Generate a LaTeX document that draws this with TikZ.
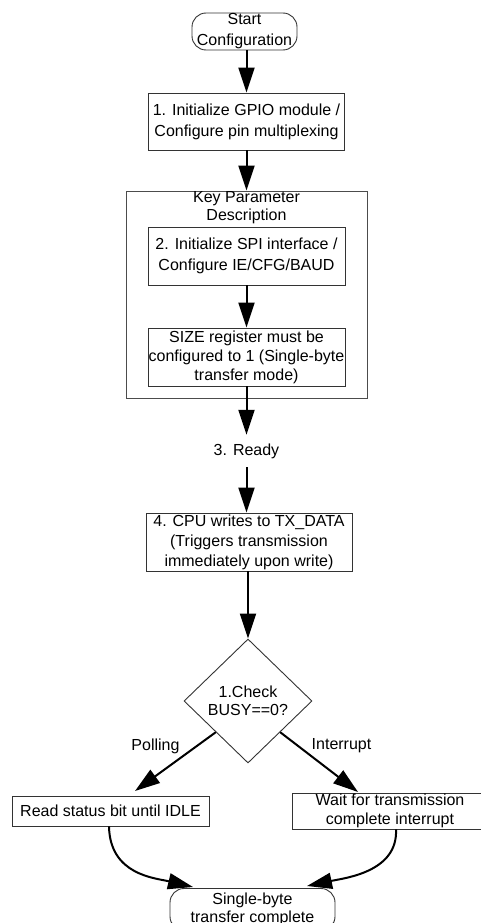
\documentclass[tikz,border=0pt]{standalone}
\usepackage{fontspec}
\setmainfont{Liberation Sans}
\usetikzlibrary{arrows.meta,shapes.geometric,calc}
\begin{document}
\begin{tikzpicture}[x=1pt,y=-1pt,
  box/.style={draw=black!80, line width=0.9pt, inner sep=0pt, align=center, fill=white},
  term/.style={box, rounded corners=14pt},
  arr/.style={line width=2pt, -{Triangle[length=25pt,width=16pt]}},
  lbl/.style={inner sep=0pt, align=center}]
\useasboundingbox (0,0) rectangle (480,923);
% group container
\node[draw=black!70, line width=0.9pt, minimum width=241pt, minimum height=207pt, inner sep=0pt] (grp) at (246.5,294.5) {};
\node[lbl, font=\fontsize{16}{18}\selectfont] (title) at (246.5,208) {Key Parameter\\Description};
% nodes
\node[term, minimum width=105pt, minimum height=37pt, font=\fontsize{16}{21}\selectfont] (start) at (244.5,31.5) {Start\\Configuration};
\node[box, minimum width=196pt, minimum height=57pt, font=\fontsize{16}{21}\selectfont] (box1) at (246.5,121.5) {1. Initialize GPIO module /\\Configure pin multiplexing};
\node[box, minimum width=197pt, minimum height=58pt, font=\fontsize{16}{21}\selectfont] (box2) at (246.5,256) {2. Initialize SPI interface /\\Configure IE/CFG/BAUD};
\node[box, minimum width=197pt, minimum height=58pt, font=\fontsize{16}{19}\selectfont] (size) at (246.5,357) {SIZE register must be\\configured to 1 (Single-byte\\transfer mode)};
\node[lbl, minimum height=32pt, font=\fontsize{16}{19}\selectfont] (ready) at (246.5,451) {3. Ready};
\node[box, minimum width=206pt, minimum height=58pt, font=\fontsize{16}{20}\selectfont] (box4) at (249,542) {4. CPU writes to TX\_DATA\\(Triggers transmission\\immediately upon write)};
\node[box, diamond, minimum width=128pt, minimum height=124pt, font=\fontsize{16}{18}\selectfont] (dec) at (248,701) {1.Check\\BUSY==0?};
\node[box, minimum width=197pt, minimum height=30pt, font=\fontsize{16}{19}\selectfont] (read) at (110.5,811) {Read status bit until IDLE};
\node[box, minimum width=196pt, minimum height=36pt, font=\fontsize{16}{19}\selectfont] (wait) at (390,811) {Wait for transmission\\complete interrupt};
\node[term, minimum width=165pt, minimum height=42pt, font=\fontsize{16}{18}\selectfont] (fin) at (252.5,909.5) {Single-byte\\transfer complete};
% labels
\node[lbl, font=\fontsize{16}{19}\selectfont] (lpoll) at (155.5,746) {Polling};
\node[lbl, font=\fontsize{16}{19}\selectfont] (lint) at (341.5,746) {Interrupt};
% free ends
\coordinate (pin) at (135,791);
\coordinate (iin) at (358,792);
\coordinate (fl) at (193,887);
\coordinate (fr) at (307,886);
% connectors
\draw[arr] (start.south -| box1.north) -- (box1.north);
\draw[arr] (box1.south) -- (grp.north -| box1.south);
\draw[arr] (box2.south) -- (size.north);
\draw[arr] (size.south) -- (ready.north -| size.south);
\draw[arr] (ready.south) -- (box4.north -| ready.south);
\draw[arr] (box4.south -| dec.north) -- (dec.north);
\draw[arr] ($(dec.west)!0.5!(dec.south)$) -- (pin);
\draw[arr] ($(dec.east)!0.5!(dec.south)$) -- (iin);
\draw[arr] ($(read.south)+(-1.5,0)$) .. controls (110,875) and (155,878) .. (fl);
\draw[arr] ($(wait.south)+(6,0)$) .. controls (398,872) and (345,878) .. (fr);
\end{tikzpicture}
\end{document}
